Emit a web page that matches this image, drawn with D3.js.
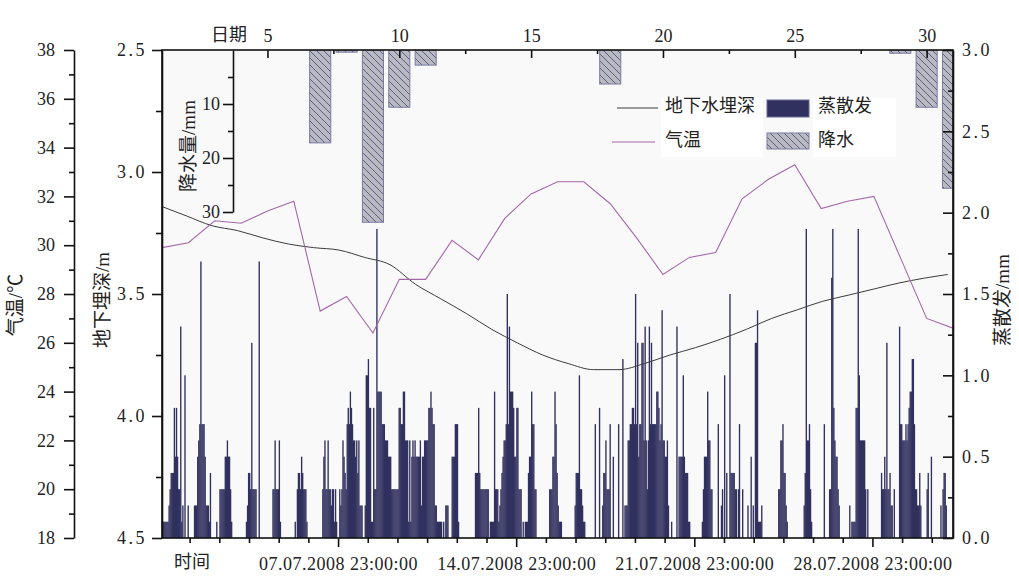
<!DOCTYPE html>
<html><head><meta charset="utf-8">
<script src="https://cdn.jsdelivr.net/npm/d3@7/dist/d3.min.js"></script>
<style>
html,body{margin:0;padding:0;background:#fff;}
svg{display:block;}
</style></head>
<body>
<svg id="c" width="1019" height="578"></svg>
<script>
// ---------------- data ----------------
const days = d3.range(1, 32);
const airTemp = [29.9,30.1,31.0,30.9,31.4,31.8,27.3,27.9,26.4,28.6,28.6,30.2,29.4,31.1,32.1,32.6,
                 32.6,31.7,30.3,28.8,29.5,29.7,31.9,32.7,33.3,31.5,31.8,32.0,29.5,27.0,26.6];
const depthHours = [0,24,48,72,96,120,144,168,192,216,240,264,288,312,336,360,384,408,432,456,
                    480,504,528,552,576,600,624,648,672,696,720,742];
const depthVals = [3.14,3.18,3.22,3.24,3.27,3.295,3.31,3.32,3.35,3.38,3.46,3.52,3.58,3.645,3.70,3.75,
                   3.785,3.81,3.81,3.785,3.75,3.72,3.685,3.645,3.60,3.565,3.53,3.505,3.48,3.455,3.435,3.42];
const rainDays = [7,8,9,10,11,18,29,30,31];
const rainVals = [17.2,0.4,31.9,10.6,2.8,6.3,0.6,10.6,25.6];
// hourly evapotranspiration (mm), 01.07.2008 00:00 - 31.07.2008 23:00, one row per day
const evapHourly = [
0.1,0.1,0.1,0.1,0.1,0.1,0.1,0.2,0.3,0.4,0.4,0.4,0.8,0.5,0.8,0.5,0.3,0.3,1.3,0.1,0.2,0,1.0,0,
0,0.2,0,0,0,0,0,0.2,0.2,0.2,0.5,0.6,0.7,1.7,0.7,0.7,0.7,0.5,0.2,0.2,0.2,0.1,0.4,0,
0,0,0,0,0.1,0,0,0.3,0.3,0.3,0.3,0.3,0.5,0.5,0.6,0.5,0.5,0.3,0.1,0,0,0,0,0,
0,0,0,0,0,0,0,0,0.1,0.2,0.4,0.4,0.3,1.2,0.3,0.3,0.3,0.3,0,0,1.7,0,0,0,
0,0,0,0,0,0,0,0,0,0.3,0.3,0.6,0.3,0.3,0.3,0.6,0.1,0,0,0,0,0,0,0,
0,0,0,0,0,0,0.1,0,0.3,0.4,0.4,0.3,0.5,0.4,0.3,0.3,0.3,0.1,0,0,0,0,0,0,
0,0,0,0,0,0,0,0,0.3,0.5,0.6,0.3,0.3,0.6,0.3,0.3,0.2,0.3,0.3,0.1,0.3,0.1,0,0,
0.3,0.2,0.3,0.6,0.5,0.4,0.3,0.7,0.8,0.7,0.9,0.8,0.7,0.6,0.6,0.5,0.6,0.4,0.6,0.2,0.2,0.2,0,0,
0.2,1.0,1.0,1.1,0.8,0.8,0.1,0.1,0.8,0.3,0.3,1.9,0.9,0.9,0.9,0.9,0.7,0.7,0.7,0.6,0.6,0.6,0.5,0.5,
0.5,0.3,0.3,0.3,0.3,0.3,0.3,0.3,0.8,0.8,0.7,0.7,0.9,0.9,0.6,0.6,0.6,0.1,0.6,0.1,0.5,0.6,0.5,0.6,
0.5,0.5,0.5,0.5,0.6,0.2,0.5,0.5,0.6,0.6,0.6,0.6,0.8,0.8,0.9,0.8,0.7,0.7,0.2,0.2,0.1,0.1,0.1,0.1,
0.1,0,0.1,0,0.2,0.2,0.2,0,0,0,0.5,0.5,0.5,0.7,0.7,0.7,0.1,0,0,0,0,0,0,0,
0,0,0,0,0,0,0,0,0.4,0.4,0.4,0.8,0.4,0.3,0.3,0.3,0.3,0.3,0.3,0.3,0.3,0,0.1,0.1,
0.1,0.1,0.9,0.3,0.3,0.3,0.1,0.2,0.3,0.4,0.5,0.6,0.6,0.7,1.5,0.7,1.3,0.9,0.9,0.9,0.8,0.5,0.5,0.8,
0.8,0.3,0.3,0.3,0,0.1,0,0.1,0.1,0.1,0.4,0.5,0.5,0.9,0.7,0.7,0.3,0.3,0,0,0,0,0,0,
0,0,0,0,0,0,0.3,0.3,0.3,0.5,0.5,0.9,0.7,0.4,0.2,0.1,0.1,0.1,0,0,0,0,0,0,
0,0,0,0,0,0,0.2,0.4,0.4,0.4,1.0,0.3,0.3,0.2,0.1,0.1,0,0,0,0,0,0,0,0,
0,0.7,0,0,0,0.8,0,0,0.2,0.4,0.4,0.6,0.3,0.3,0.3,0.7,0,0,0.5,0,0,0,0,0.7,
0,0,0,1.1,0,0.2,0.2,0.2,0.6,0.6,0.7,0.7,0.8,0.8,0.7,1.5,0.7,1.2,0.5,0.7,0.7,1.2,1.2,0.6,
1.3,0.6,0.3,0.6,1.3,0.7,1.2,0.7,0.7,0.7,0.7,0.9,0.9,0.8,0.6,0.7,1.4,0.6,0.6,0.5,0.5,0.6,0.2,0,
0,0.1,0,0,0,0,1.3,0,0.5,0.5,0.5,0.5,1.0,0.5,0.4,0.4,0.4,0.1,0.1,0,0,0,0,0,
0,0,0,0,0,0,0.1,0.3,0.5,0.5,0.5,0.9,0.6,0.6,0.3,0.3,0,0,0,0,0,0.7,0,0,
0.2,0.3,0,1.0,0,0.4,0,0,1.5,0.4,0.4,0.4,0.4,0.3,0.3,0,0.3,0.7,0,0,0.3,0,0,0,
0,0.2,0,0,0.5,0,0.2,0,1.2,1.2,1.4,0.1,0.1,0.1,0.2,0,0,0,0,0,0,0,0,0,
0,0,0,0,0,0,0.3,0.3,0.6,0.6,0.7,0.4,0.4,0.2,0.1,0,0,0,0,0,0,0,0,0,
0,0,0,0,0,0,0.2,0.4,1.9,0.6,0.6,0.7,0.3,0.1,0,0,0,0,0,0,0,0,0,0,
0,0.7,0,0,0,0,0.3,0.3,1.6,1.9,0.8,0.6,0.5,0.5,0.3,0.2,0,0,0,0,0,0,0,0,
0,0.2,0,0.1,0.1,0.1,0.1,0.8,0.8,1.9,1.0,0.6,0.6,0.6,0.6,0.6,0.3,0,0.3,0,0,0,0,0,
0,0,0,0,0,0,0,0.4,0.3,0.3,0.5,0.3,1.2,0.3,0.3,0.4,0.2,0.2,0,0.3,0,0,0,0,
1.3,0.7,0.7,0.6,0.6,0.6,0.7,0.6,0.7,0.8,0.9,0.9,1.1,1.1,0.7,0.3,0.3,0.2,0.2,0.4,0.2,0,0,0,
0,0,0.3,0.4,0,0,0.5,0,0,0,0,0,0,0,0,0.2,0,0.3,0.4,0.4,0.2,0,0,0
];
const tempMajor = d3.range(18, 39, 2);
const tempMinor = d3.range(19, 38, 2);
const depthMajor = [2.5,3.0,3.5,4.0,4.5];
const depthMinor = [2.75,3.25,3.75,4.25];
const evapMajor = [0,0.5,1.0,1.5,2.0,2.5,3.0];
const evapMinor = [0.25,0.75,1.25,1.75,2.25,2.75];
const rainMajor = [10,20,30];
const rainMinor = [5,15,25];
const dayMajor = [5,10,15,20,25,30];
const dayMinor = [7.5,12.5,17.5,22.5,27.5];
const timeMajorHours = [167,335,503,671];
const timeLabels = ["07.07.2008 23:00:00","14.07.2008 23:00:00","21.07.2008 23:00:00","28.07.2008 23:00:00"];
const timeMinorHours = [27,55,83,111,139,195,223,251,279,307,363,391,419,447,475,531,559,587,615,643,699,727];

// ---------------- layout ----------------
const SERIF = '"Liberation Serif","Times New Roman","DejaVu Serif",serif';
const CJK = '"Liberation Serif","Noto Sans CJK SC",serif';
const L = 162, R = 953, T = 50, B = 538;
const svg = d3.select("#c");
const xHour = d3.scaleLinear().domain([0, 747]).range([161, R]);
const xDay = d3.scaleLinear().domain([1, 31]).range([L, R]);
const yDepth = d3.scaleLinear().domain([2.5, 4.5]).range([T, B]);
const yTemp = d3.scaleLinear().domain([18, 38]).range([B, T]);
const yEvap = d3.scaleLinear().domain([0, 3]).range([B, T]);
const yRain = d3.scaleLinear().domain([0, 30]).range([T, 212]);

const defs = svg.append("defs");
defs.append("clipPath").attr("id","plotclip").append("rect")
  .attr("x",L).attr("y",T).attr("width",R-L).attr("height",B-T);
const pat = defs.append("pattern").attr("id","hatch").attr("patternUnits","userSpaceOnUse")
  .attr("width",7).attr("height",7);
pat.append("rect").attr("width",7).attr("height",7).attr("fill","#b9b9c1");
pat.append("path").attr("d","M0,0L7,7M-1,6L1,8M6,-1L8,1").attr("stroke","#52527e").attr("stroke-width",0.9);

// backgrounds
svg.append("rect").attr("x",0).attr("y",0).attr("width",1019).attr("height",578).attr("fill","#ffffff");
svg.append("rect").attr("x",L).attr("y",T).attr("width",R-L).attr("height",B-T).attr("fill","#f9f9fa");

const plot = svg.append("g").attr("clip-path","url(#plotclip)");

// evapotranspiration bars
plot.append("g").selectAll("rect").data(evapHourly).join("rect")
  .attr("x",(d,i)=>xHour(i)).attr("width",(d,i)=>xHour(i+1)-xHour(i)+0.3)
  .attr("y",d=>yEvap(d)).attr("height",d=>B-yEvap(d))
  .attr("fill","#31315f");

// precipitation bars (hang from top)
plot.append("g").selectAll("rect").data(rainDays).join("rect")
  .attr("x",(d)=>xDay(d-0.4)).attr("width",xDay(1.8)-xDay(1))
  .attr("y",T).attr("height",(d,i)=>yRain(rainVals[i])-T)
  .attr("fill","url(#hatch)").attr("stroke","#7a7aa2").attr("stroke-width",1);

// groundwater depth line
plot.append("path").datum(depthHours)
  .attr("d", d3.line().x(h=>xHour(h)).y((h,i)=>yDepth(depthVals[i])).curve(d3.curveMonotoneX))
  .attr("fill","none").attr("stroke","#3c3c3c").attr("stroke-width",1);

// air temperature line
plot.append("path").datum(days)
  .attr("d", d3.line().x(d=>xDay(d)).y((d,i)=>yTemp(airTemp[i])))
  .attr("fill","none").attr("stroke","#a468a8").attr("stroke-width",1.1);

// ---------------- axes ----------------
function styleAxis(g){
  g.attr("font-family", null).attr("font-size", null);
  g.selectAll("path.domain").attr("stroke","#111").attr("stroke-width",1.6);
  g.selectAll(".tick line").attr("stroke","#111").attr("stroke-width",1.6);
  g.selectAll("text").style("font-family",SERIF).style("font-size","18px").attr("fill","#222");
}
// frame
svg.append("rect").attr("x",L).attr("y",T).attr("width",R-L).attr("height",B-T)
  .attr("fill","none").attr("stroke","#111").attr("stroke-width",1.6);

// temperature axis
const gT = svg.append("g").attr("transform","translate(74,0)")
  .call(d3.axisLeft(yTemp).tickValues(tempMajor).tickSize(10).tickSizeOuter(0).tickPadding(9).tickFormat(d3.format("d")));
styleAxis(gT);
const gTm = svg.append("g").attr("transform","translate(74,0)")
  .call(d3.axisLeft(yTemp).tickValues(tempMinor).tickSize(5).tickFormat(""));
gTm.select(".domain").remove(); styleAxis(gTm);

// depth axis
const gD = svg.append("g").attr("transform",`translate(${L},0)`)
  .call(d3.axisLeft(yDepth).tickValues(depthMajor).tickSize(10).tickSizeOuter(0).tickPadding(5).tickFormat(d3.format(".1f")));
styleAxis(gD); gD.selectAll("text").attr("letter-spacing","2.5px");
const gDm = svg.append("g").attr("transform",`translate(${L},0)`)
  .call(d3.axisLeft(yDepth).tickValues(depthMinor).tickSize(6).tickFormat(""));
gDm.select(".domain").remove(); styleAxis(gDm);

// evap axis (right, inward ticks)
const gE = svg.append("g").attr("transform",`translate(${R},0)`)
  .call(d3.axisRight(yEvap).tickValues(evapMajor).tickSize(-10).tickSizeOuter(0).tickPadding(9).tickFormat(d3.format(".1f")));
styleAxis(gE); gE.selectAll("text").attr("letter-spacing","2.5px");
const gEm = svg.append("g").attr("transform",`translate(${R},0)`)
  .call(d3.axisRight(yEvap).tickValues(evapMinor).tickSize(-5).tickFormat(""));
gEm.select(".domain").remove(); styleAxis(gEm);

// precipitation axis
const gR = svg.append("g").attr("transform","translate(233,0)")
  .call(d3.axisLeft(yRain).tickValues(rainMajor).tickSize(10).tickSizeOuter(0).tickPadding(3).tickFormat(d3.format("d")));
styleAxis(gR);
const gRm = svg.append("g").attr("transform","translate(233,0)")
  .call(d3.axisLeft(yRain).tickValues(rainMinor).tickSize(5).tickFormat(""));
gRm.select(".domain").remove(); styleAxis(gRm);

// day axis (top, inward ticks)
const gDay = svg.append("g").attr("transform",`translate(0,${T})`)
  .call(d3.axisTop(xDay).tickValues(dayMajor).tickSize(-8).tickSizeOuter(0).tickPadding(8).tickFormat(d3.format("d")));
gDay.select(".domain").remove(); styleAxis(gDay);
const gDaym = svg.append("g").attr("transform",`translate(0,${T})`)
  .call(d3.axisTop(xDay).tickValues(dayMinor).tickSize(-4).tickFormat(""));
gDaym.select(".domain").remove(); styleAxis(gDaym);

// time axis (bottom)
const gH = svg.append("g").attr("transform",`translate(0,${B})`)
  .call(d3.axisBottom(xHour).tickValues(timeMajorHours).tickSize(9).tickSizeOuter(0).tickPadding(10)
        .tickFormat((d,i)=>timeLabels[i]));
gH.select(".domain").remove(); styleAxis(gH); gH.selectAll("text").attr("letter-spacing","0.5px");
const gHm = svg.append("g").attr("transform",`translate(0,${B})`)
  .call(d3.axisBottom(xHour).tickValues(timeMinorHours).tickSize(5).tickFormat(""));
gHm.select(".domain").remove(); styleAxis(gHm);

// ---------------- titles ----------------
function vtitle(x, y, txt){
  svg.append("text").attr("transform",`translate(${x},${y}) rotate(-90)`)
    .style("font-family",CJK).style("font-size","19px").attr("fill","#222")
    .attr("text-anchor","middle").attr("dominant-baseline","middle").text(txt);
}
vtitle(18, 305, "气温/℃");
vtitle(105, 300, "地下埋深/m");
vtitle(1005, 300, "蒸散发/mm");
vtitle(191, 146, "降水量/mm");
svg.append("text").style("font-family",CJK).style("font-size","18px").attr("fill","#222")
  .attr("x",192).attr("y",568).attr("text-anchor","middle").text("时间");
svg.append("text").style("font-family",CJK).style("font-size","18px").attr("fill","#222")
  .attr("x",229).attr("y",41).attr("text-anchor","middle").text("日期");

// ---------------- legend ----------------
const lg = svg.append("g");
lg.append("rect").attr("x",661).attr("y",98).attr("width",102).attr("height",59).attr("fill","#fff");
lg.append("rect").attr("x",813).attr("y",98).attr("width",83).attr("height",59).attr("fill","#fff");
lg.append("line").attr("x1",617).attr("x2",658).attr("y1",108).attr("y2",108).attr("stroke","#3c3c3c").attr("stroke-width",1);
lg.append("line").attr("x1",612).attr("x2",655).attr("y1",142).attr("y2",142).attr("stroke","#a468a8").attr("stroke-width",1.1);
lg.append("rect").attr("x",767).attr("y",100).attr("width",42).attr("height",17).attr("fill","#31315f").attr("stroke","#6a6a90");
lg.append("rect").attr("x",767).attr("y",133).attr("width",42).attr("height",16).attr("fill","url(#hatch)").attr("stroke","#7a7aa2");
const legTxt = [["地下水埋深",665,108],["气温",665,142],["蒸散发",818,108],["降水",818,142]];
legTxt.forEach(([t,x,y])=>lg.append("text").style("font-family",CJK).style("font-size","18px").attr("fill","#222")
  .attr("x",x).attr("y",y).attr("dominant-baseline","middle").text(t));
</script>
</body></html>
